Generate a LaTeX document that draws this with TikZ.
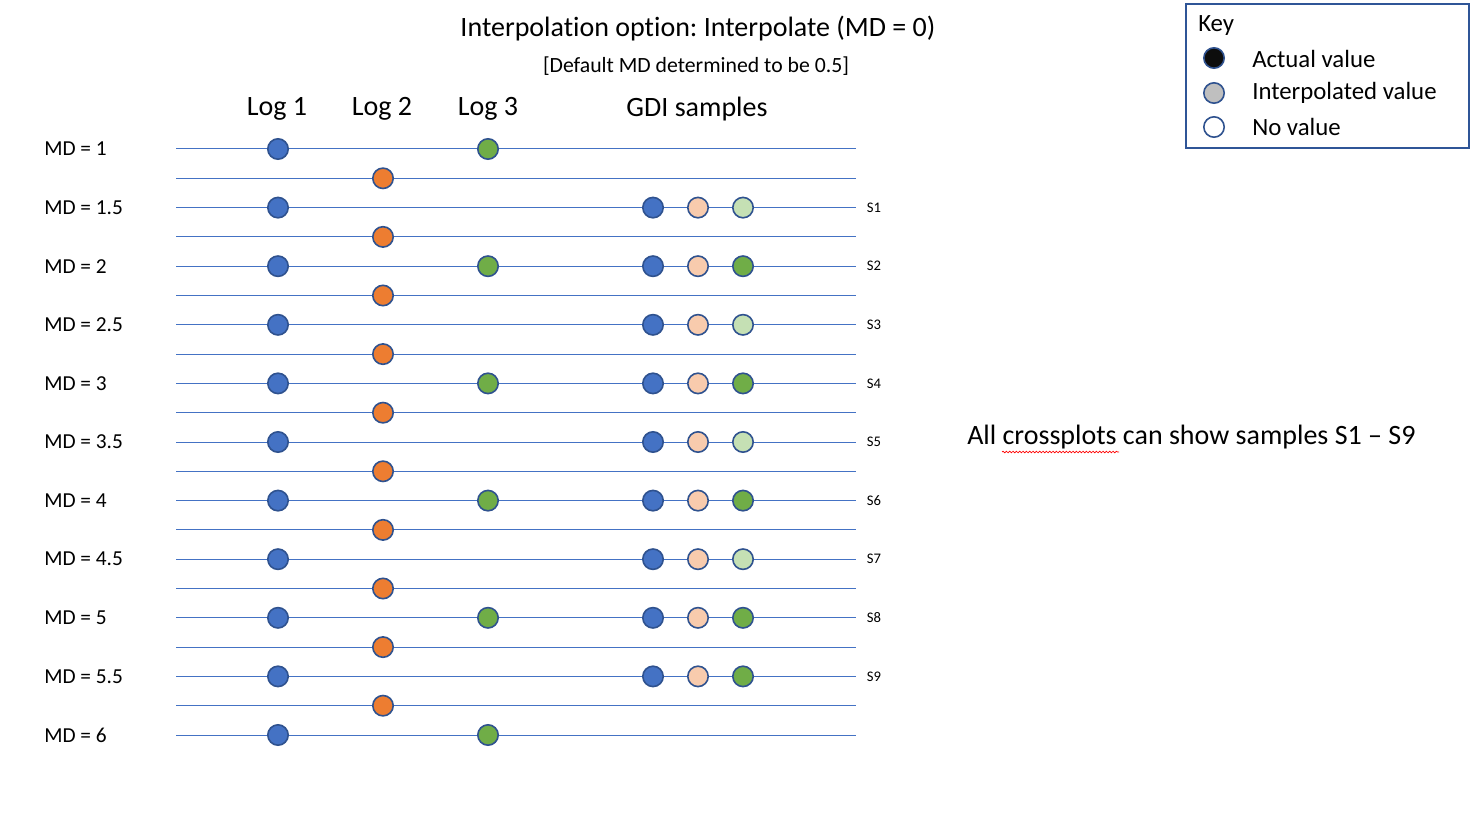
\documentclass[tikz,border=0pt]{standalone}
\usepackage{fontspec}
\setmainfont{Carlito}[Ligatures={NoCommon}]
\usetikzlibrary{decorations.pathmorphing}
\frenchspacing

\definecolor{logblue}{HTML}{4472C4}
\definecolor{logorange}{HTML}{ED7D31}
\definecolor{loggreen}{HTML}{70AD47}
\definecolor{peach}{HTML}{F8CBAD}
\definecolor{palegreen}{HTML}{C5E0B4}
\definecolor{dotedge}{HTML}{2F528F}
\definecolor{keyedge}{HTML}{2F5597}

\tikzset{
  valdot/.style={circle, draw=dotedge, line width=1.2pt, minimum size=15.3pt, inner sep=0pt},
  depthline/.style={draw=logblue, line width=0.75pt},
  mdlabel/.style={anchor=west, inner sep=0pt, font=\fontsize{16}{19}\selectfont},
  slabel/.style={inner sep=0pt, font=\fontsize{11}{13}\selectfont},
  header/.style={inner sep=0pt, font=\fontsize{21}{25}\selectfont},
  keytext/.style={anchor=west, inner sep=0pt, font=\fontsize{18.6}{22}\selectfont}
}

\begin{document}
\begin{tikzpicture}[x=0.75pt,y=-0.75pt]
\useasboundingbox (0,0) rectangle (1483,827);

% titles
\node[header] (title) at (698,29) {Interpolation option: Interpolate (MD = 0)};
\node[inner sep=0pt, font=\fontsize{16.3}{19}\selectfont] (subtitle) at (696,66) {[Default MD determined to be 0.5]};
\node[header] (hlog1) at (277,109) {Log 1};
\node[header] (hlog2) at (382,109) {Log 2};
\node[header] (hlog3) at (488,109) {Log 3};
\node[header] (hgdi) at (697,109) {GDI samples};

% depth lines
\foreach \i in {0,...,20}
  \draw[depthline] (176,149+29.3*\i) -- (856,149+29.3*\i);

% MD labels and log 1
\foreach \v [count=\k from 0] in {1,1.5,2,2.5,3,3.5,4,4.5,5,5.5,6} {
  \node[mdlabel] (md\k) at (44,149+58.6*\k) {MD = \v};
  \node[valdot, fill=logblue] (loga\k) at (278,149+58.6*\k) {};
}

% log 2
\foreach \k in {0,...,9}
  \node[valdot, fill=logorange] (logb\k) at (383,178.3+58.6*\k) {};

% log 3
\foreach \k in {0,2,...,10}
  \node[valdot, fill=loggreen] (logc\k) at (488,149+58.6*\k) {};

% GDI samples
\foreach \c [count=\k] in {palegreen,loggreen,palegreen,loggreen,palegreen,loggreen,palegreen,loggreen,loggreen} {
  \node[valdot, fill=logblue] (gdia\k) at (653,149+58.6*\k) {};
  \node[valdot, fill=peach] (gdib\k) at (698,149+58.6*\k) {};
  \node[valdot, fill=\c] (gdic\k) at (743,149+58.6*\k) {};
  \node[slabel] (s\k) at (874,149+58.6*\k) {S\k};
}

% note
\node[anchor=west, inner sep=0pt, font=\fontsize{21}{25}\selectfont] (note) at (967,437) {All crossplots can show samples S1 – S9};
\draw[red, line width=0.5pt, decorate, decoration={snake, amplitude=0.6pt, segment length=2.5pt}] (1002,452) -- (1119,452);

% key
\draw[keyedge, line width=1.5pt] (1186,4) rectangle (1469,148);
\node[keytext] (key) at (1198,26) {Key};
\node[valdot, fill=black!95] (kact) at (1214,58) {};
\node[valdot, fill=black!25] (kint) at (1214,93) {};
\node[valdot, fill=white] (knone) at (1214,127) {};
\node[keytext] (tact) at (1252,59) {Actual value};
\node[keytext] (tint) at (1252,93) {Interpolated value};
\node[keytext] (tnone) at (1252,127) {No value};
\end{tikzpicture}
\end{document}
